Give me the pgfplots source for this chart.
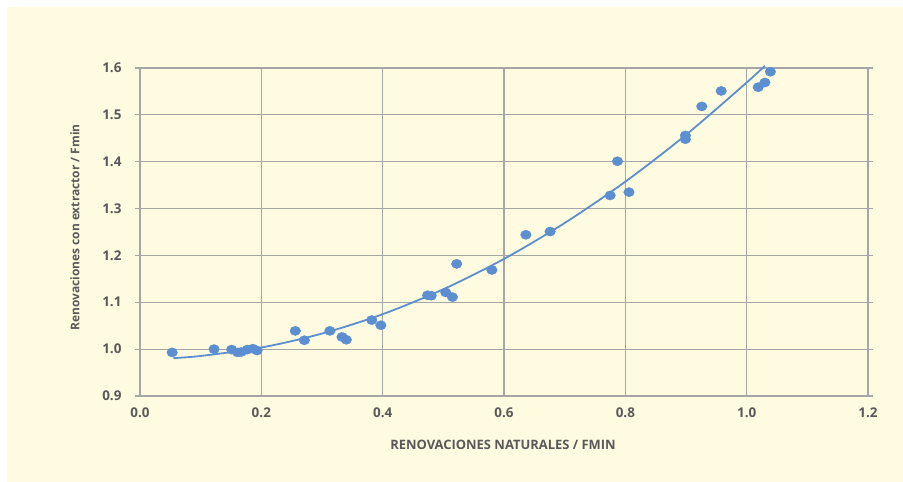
\documentclass[border=0pt]{standalone}
\usepackage{pgfplots}
\pgfplotsset{compat=1.18}
\usepackage{fontspec}
\setmainfont{Open Sans}
\definecolor{bg}{RGB}{254,251,225}
\definecolor{pt}{RGB}{91,143,210}
\definecolor{gridc}{RGB}{166,166,166}
\definecolor{txt}{RGB}{89,89,89}
\begin{document}
\begin{tikzpicture}[x=1bp,y=1bp]
\path[use as bounding box] (0,0) rectangle (903,482);
\fill[bg] (7,0) rectangle (903,475);
\begin{axis}[
  at={(140bp,86bp)}, anchor=south west,
  scale only axis, width=728bp, height=328bp,
  xmin=0, xmax=1.2, ymin=0.9, ymax=1.6,
  xtick={0,0.2,0.4,0.6,0.8,1.0,1.2},
  ytick={0.9,1.0,1.1,1.2,1.3,1.4,1.5,1.6},
  xticklabel style={/pgf/number format/fixed,/pgf/number format/fixed zerofill,/pgf/number format/precision=1,yshift=-3bp},
  yticklabel style={/pgf/number format/fixed,/pgf/number format/fixed zerofill,/pgf/number format/precision=1,xshift=-10bp},
  /pgf/number format/assume math mode=true,
  ticklabel style={font=\fontsize{13.5}{15}\selectfont\bfseries, text=txt},
  grid=major,
  grid style={gridc, line width=1.2bp},
  axis line style={gridc, line width=1.2bp},
  xtick style={draw=none},
  ytick style={gridc, line width=1.2bp},
  tick align=outside, major tick length=5bp,
  clip=false,
]
\addplot[pt, line width=1.8bp, smooth] coordinates {
(0.055,0.9810) (0.1,0.9854) (0.2,1.0034) (0.3,1.0332) (0.4,1.0746) (0.5,1.1278)
(0.6,1.1926) (0.7,1.2692) (0.8,1.3574) (0.9,1.4574) (1.0,1.5690) (1.03,1.6048)
};
\addplot[only marks, mark=*, mark size=4.6bp, mark options={pt, draw=pt, xscale=1.15}] coordinates {
(0.053,0.993) (0.122,1.000) (0.151,0.999) (0.161,0.993) (0.167,0.994)
(0.177,0.999) (0.186,1.001) (0.193,0.997) (0.256,1.039) (0.271,1.019)
(0.313,1.039) (0.333,1.026) (0.340,1.020) (0.382,1.062) (0.397,1.051)
(0.474,1.115) (0.480,1.114) (0.504,1.121) (0.515,1.111) (0.522,1.182)
(0.580,1.169) (0.636,1.244) (0.676,1.251) (0.775,1.328) (0.787,1.401)
(0.806,1.335) (0.899,1.456) (0.899,1.448) (0.926,1.518) (0.958,1.551)
(1.019,1.559) (1.030,1.569) (1.039,1.592)
};
\end{axis}
\node[text=txt, font=\fontsize{13}{15}\selectfont\bfseries, inner sep=0pt] at (503,37) {RENOVACIONES NATURALES / FMIN};
\node[text=txt, font=\fontsize{12}{14}\selectfont\bfseries, rotate=90, inner sep=0pt] at (75,254.5) {Renovaciones con extractor / Fmin};
\end{tikzpicture}
\end{document}
